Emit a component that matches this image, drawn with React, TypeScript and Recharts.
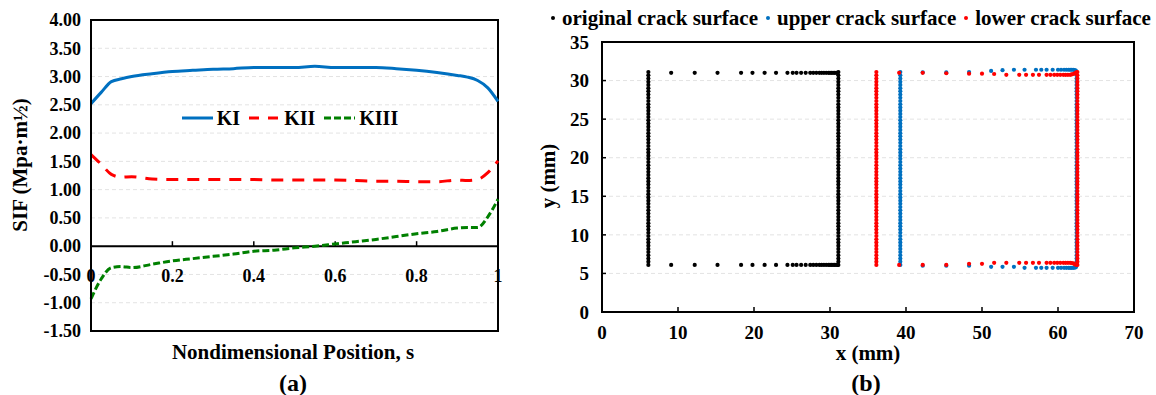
import React from 'react'
import {
  LineChart,
  Line,
  XAxis,
  YAxis,
  CartesianGrid,
  Legend,
  ReferenceLine,
  ReferenceArea,
  ScatterChart,
  Scatter,
} from 'recharts'

// (a) stress intensity factors along the crack front
const positions = [0, 0.025, 0.05, 0.075, 0.1, 0.15, 0.2, 0.25, 0.3, 0.35, 0.4, 0.45, 0.5, 0.55, 0.6, 0.65, 0.7, 0.75, 0.8, 0.85, 0.9, 0.925, 0.95, 0.975, 1]
const kI = [2.52, 2.72, 2.91, 2.96, 3.0, 3.05, 3.09, 3.11, 3.13, 3.14, 3.16, 3.16, 3.16, 3.18, 3.16, 3.16, 3.16, 3.14, 3.11, 3.07, 3.02, 2.99, 2.93, 2.8, 2.56]
const kII = [1.62, 1.45, 1.27, 1.22, 1.23, 1.19, 1.18, 1.18, 1.18, 1.18, 1.18, 1.17, 1.17, 1.17, 1.17, 1.16, 1.15, 1.15, 1.14, 1.14, 1.17, 1.16, 1.18, 1.3, 1.51]
const kIII = [-0.93, -0.58, -0.38, -0.36, -0.38, -0.32, -0.26, -0.22, -0.18, -0.14, -0.09, -0.07, -0.03, 0.0, 0.04, 0.08, 0.12, 0.17, 0.22, 0.26, 0.32, 0.33, 0.33, 0.52, 0.83]
const sifTicks = [-1.5, -1, -0.5, 0, 0.5, 1, 1.5, 2, 2.5, 3, 3.5, 4]
const positionTicks = [0, 0.2, 0.4, 0.6, 0.8, 1]

// (b) crack surface nodes, mm
const columnY = [
  6.1, 6.52, 6.93, 7.35, 7.77, 8.18, 8.6, 9.02, 9.43, 9.85, 10.27, 10.68, 11.1, 11.52, 11.93, 12.35,
  12.77, 13.18, 13.6, 14.02, 14.43, 14.85, 15.27, 15.68, 16.1, 16.52, 16.93, 17.35, 17.77, 18.18,
  18.6, 19.02, 19.43, 19.85, 20.27, 20.68, 21.1, 21.52, 21.93, 22.35, 22.77, 23.18, 23.6, 24.02,
  24.43, 24.85, 25.27, 25.68, 26.1, 26.52, 26.93, 27.35, 27.77, 28.18, 28.6, 29.02, 29.43, 29.85,
  30.27, 30.68, 31.1,
]
const originalRowX = [9.1, 12.2, 15.2, 18.3, 19.8, 21.4, 22.9, 24.4, 25.1, 25.6, 26.2, 26.8, 27.4, 27.8, 28.2, 28.6, 28.9, 29.2, 29.5, 29.8, 30.0, 30.2, 30.4, 30.6, 30.8, 31.0]
const originalEdgeX = [6.1, 31.1]
const originalEdgeY = [6.1, 31.0]

const upperRowX = [42.2, 45.3, 48.3, 51.2, 52.7, 54.2, 55.6, 57.1, 57.8, 58.5, 59.3, 60.0, 60.4, 60.8, 61.1, 61.4, 61.6, 61.8, 62.0, 62.2, 62.35]
const upperTopY = [31.05, 31.05, 31.1, 31.25, 31.35, 31.4, 31.4, 31.4, 31.4, 31.4, 31.4, 31.4, 31.4, 31.4, 31.4, 31.4, 31.4, 31.4, 31.4, 31.35, 31.3]
const upperBottomY = [6.0, 6.0, 6.0, 5.85, 5.85, 5.85, 5.72, 5.72, 5.72, 5.72, 5.72, 5.72, 5.72, 5.72, 5.72, 5.72, 5.72, 5.72, 5.72, 5.75, 5.8]
const upperEdgeX = [39.25, 62.45]

const lowerRowX = [39.1, 42.2, 45.3, 48.3, 50.0, 51.6, 53.2, 54.9, 55.8, 56.7, 57.5, 58.5, 59.0, 59.5, 59.9, 60.3, 60.7, 61.0, 61.3, 61.6, 61.8, 62.0, 62.2, 62.4]
const lowerTopY = [31.0, 31.0, 30.95, 30.9, 30.9, 30.85, 30.75, 30.75, 30.75, 30.75, 30.75, 30.75, 30.75, 30.75, 30.75, 30.75, 30.75, 30.75, 30.75, 30.75, 30.8, 30.85, 30.95, 31.05]
const lowerBottomY = [6.1, 6.1, 6.1, 6.25, 6.25, 6.37, 6.37, 6.37, 6.37, 6.37, 6.37, 6.37, 6.37, 6.37, 6.37, 6.37, 6.37, 6.37, 6.37, 6.37, 6.35, 6.3, 6.2, 6.1]
const lowerEdgeX = [36.1, 62.55]
const mmXTicks = [0, 10, 20, 30, 40, 50, 60, 70]
const mmYTicks = [0, 5, 10, 15, 20, 25, 30, 35]

const serif = '"Times New Roman", "Liberation Serif", serif'

const sifData = positions.map((s, i) => ({ s, KI: kI[i], KII: kII[i], KIII: kIII[i] }))

const sifSeries = [
  { key: 'KI', color: '#0070C0', dash: undefined, iconDash: undefined },
  { key: 'KII', color: '#FF0000', dash: '12 9', iconDash: '10 9' },
  { key: 'KIII', color: '#008000', dash: '7 3', iconDash: '7 3' },
]

const column = (x: number) => columnY.map((y) => ({ x, y }))
const row = (xs: number[], ys: number[] | number) =>
  xs.map((x, i) => ({ x, y: Array.isArray(ys) ? ys[i] : ys }))

const originalPoints = [
  ...column(originalEdgeX[0]),
  ...column(originalEdgeX[1]),
  ...row(originalRowX, originalEdgeY[1]),
  ...row(originalRowX, originalEdgeY[0]),
]
const upperPoints = [
  ...column(upperEdgeX[0]),
  ...column(upperEdgeX[1]),
  ...row(upperRowX, upperTopY),
  ...row(upperRowX, upperBottomY),
]
const lowerPoints = [
  ...column(lowerEdgeX[0]),
  ...column(lowerEdgeX[1]),
  ...row(lowerRowX, lowerTopY),
  ...row(lowerRowX, lowerBottomY),
]

const surfaces = [
  { name: 'original crack surface', color: '#000000', data: originalPoints },
  { name: 'upper crack surface', color: '#0070C0', data: upperPoints },
  { name: 'lower crack surface', color: '#FF0000', data: lowerPoints },
]

const tickText = { fill: '#000', fontFamily: serif, fontWeight: 'bold' as const }

function SifYTick({ x, y, payload }: any) {
  return (
    <text x={x - 10} y={y} dy="0.35em" textAnchor="end" fontSize={18} {...tickText}>
      {Number(payload.value).toFixed(2)}
    </text>
  )
}

// x labels sit under the zero line, not under the plot
function ZeroAxisTicks(props: any) {
  const vb = props.viewBox || {}
  if (vb.x == null) return null
  return (
    <g>
      {positionTicks.map((t) => {
        const px = vb.x + t * vb.width
        return (
          <g key={t}>
            {t > 0 && t < 1 && <line x1={px} x2={px} y1={vb.y} y2={vb.y - 5} stroke="#000" strokeWidth={1.5} />}
            <text x={px} y={vb.y + 36} textAnchor="middle" fontSize={18} {...tickText}>
              {t}
            </text>
          </g>
        )
      })}
    </g>
  )
}

function SifLegend() {
  return (
    <div style={{ display: 'flex', justifyContent: 'center', alignItems: 'center', fontFamily: serif, fontWeight: 'bold', fontSize: 20, lineHeight: '22px' }}>
      {sifSeries.map((s) => (
        <span key={s.key} style={{ display: 'inline-flex', alignItems: 'center', marginRight: 9 }}>
          <svg width={31} height={10}>
            <line x1={0} y1={5} x2={31} y2={5} stroke={s.color} strokeWidth={3} strokeDasharray={s.iconDash} />
          </svg>
          <span style={{ marginLeft: 4 }}>{s.key}</span>
        </span>
      ))}
    </div>
  )
}

function MmXTick({ x, y, payload }: any) {
  return (
    <g>
      <line x1={x} x2={x} y1={y} y2={y - 5} stroke="#000" strokeWidth={1.5} />
      <text x={x} y={y + 27} textAnchor="middle" fontSize={19} {...tickText}>
        {payload.value}
      </text>
    </g>
  )
}

function MmYTick({ x, y, payload }: any) {
  return (
    <g>
      <line x1={x} x2={x + 4} y1={y} y2={y} stroke="#000" strokeWidth={1.5} />
      <text x={x - 13} y={y} dy="0.35em" textAnchor="end" fontSize={19} {...tickText}>
        {payload.value}
      </text>
    </g>
  )
}

function SurfaceLegend() {
  return (
    <div style={{ display: 'flex', alignItems: 'center', whiteSpace: 'nowrap', fontFamily: serif, fontWeight: 'bold', fontSize: 21, lineHeight: '24px' }}>
      {surfaces.map((s) => (
        <span key={s.name} style={{ display: 'inline-flex', alignItems: 'center', marginRight: 7 }}>
          <svg width={6} height={8}>
            <circle cx={3} cy={4} r={2} fill={s.color} />
          </svg>
          <span style={{ marginLeft: 6 }}>{s.name}</span>
        </span>
      ))}
    </div>
  )
}

function Caption({ text, cx, cy, size, rotate = 0 }: { text: string; cx: number; cy: number; size: number; rotate?: number }) {
  return (
    <div
      style={{
        position: 'absolute',
        left: cx,
        top: cy,
        transform: `translate(-50%, -50%) rotate(${rotate}deg)`,
        whiteSpace: 'nowrap',
        fontFamily: serif,
        fontWeight: 'bold',
        fontSize: size,
        lineHeight: 1,
        color: '#000',
      }}
    >
      {text}
    </div>
  )
}

export default function App() {
  return (
    <div style={{ position: 'absolute', left: 0, top: 0, width: 1156, height: 395, background: '#fff', overflow: 'hidden' }}>
      <div style={{ position: 'absolute', left: 0, top: 0 }}>
        <LineChart width={520} height={395} data={sifData} margin={{ top: 20, right: 22, bottom: 64, left: 21 }}>
          <CartesianGrid horizontal vertical={false} stroke="#e3e3e3" strokeDasharray="4 3" />
          <XAxis dataKey="s" type="number" domain={[0, 1]} ticks={positionTicks} hide />
          <YAxis
            type="number"
            domain={[-1.5, 4]}
            ticks={sifTicks}
            width={70}
            axisLine={{ stroke: '#000', strokeWidth: 2 }}
            tickLine={false}
            tickSize={0}
            tickMargin={0}
            tick={<SifYTick />}
            interval={0}
          />
          <ReferenceLine y={0} stroke="#000" strokeWidth={2} label={<ZeroAxisTicks />} />
          {sifSeries.map((s) => (
            <Line
              key={s.key}
              type="monotone"
              dataKey={s.key}
              stroke={s.color}
              strokeWidth={3}
              strokeDasharray={s.dash}
              dot={false}
              activeDot={false}
              isAnimationActive={false}
            />
          ))}
          <ReferenceArea x1={0} x2={1} y1={-1.5} y2={4} fill="none" stroke="#000" strokeWidth={2} />
          <Legend
            layout="horizontal"
            verticalAlign="middle"
            align="center"
            content={<SifLegend />}
            wrapperStyle={{ top: 107, left: 91, width: 407 }}
          />
        </LineChart>
      </div>

      <div style={{ position: 'absolute', left: 540, top: 0 }}>
        <ScatterChart width={616} height={395} margin={{ top: 42, right: 22, bottom: 53, left: 22 }}>
          <CartesianGrid horizontal vertical={false} stroke="#e3e3e3" strokeDasharray="4 3" />
          <XAxis
            dataKey="x"
            type="number"
            domain={[0, 70]}
            ticks={mmXTicks}
            height={30}
            axisLine={{ stroke: '#000', strokeWidth: 2 }}
            tickLine={false}
            tickSize={0}
            tickMargin={0}
            tick={<MmXTick />}
            interval={0}
          />
          <YAxis
            dataKey="y"
            type="number"
            domain={[0, 35]}
            ticks={mmYTicks}
            width={40}
            axisLine={{ stroke: '#000', strokeWidth: 2 }}
            tickLine={false}
            tickSize={0}
            tickMargin={0}
            tick={<MmYTick />}
            interval={0}
          />
          {surfaces.map((s) => (
            <Scatter
              key={s.name}
              name={s.name}
              data={s.data}
              fill={s.color}
              isAnimationActive={false}
              shape={(p: any) => <circle cx={p.cx} cy={p.cy} r={2.1} fill={s.color} />}
            />
          ))}
          <ReferenceArea x1={0} x2={70} y1={0} y2={35} fill="none" stroke="#000" strokeWidth={2} />
          <Legend
            layout="horizontal"
            verticalAlign="middle"
            align="center"
            content={<SurfaceLegend />}
            wrapperStyle={{ top: 6, left: 10, width: 606 }}
          />
        </ScatterChart>
      </div>

      <Caption text="SIF (Mpa·m½)" cx={20} cy={165} size={21} rotate={-90} />
      <Caption text="Nondimensional Position, s" cx={293} cy={352} size={21} />
      <Caption text="(a)" cx={293} cy={383} size={24} />
      <Caption text="y (mm)" cx={548} cy={176} size={21} rotate={-90} />
      <Caption text="x (mm)" cx={868} cy={353} size={21} />
      <Caption text="(b)" cx={866} cy={383} size={24} />
    </div>
  )
}
